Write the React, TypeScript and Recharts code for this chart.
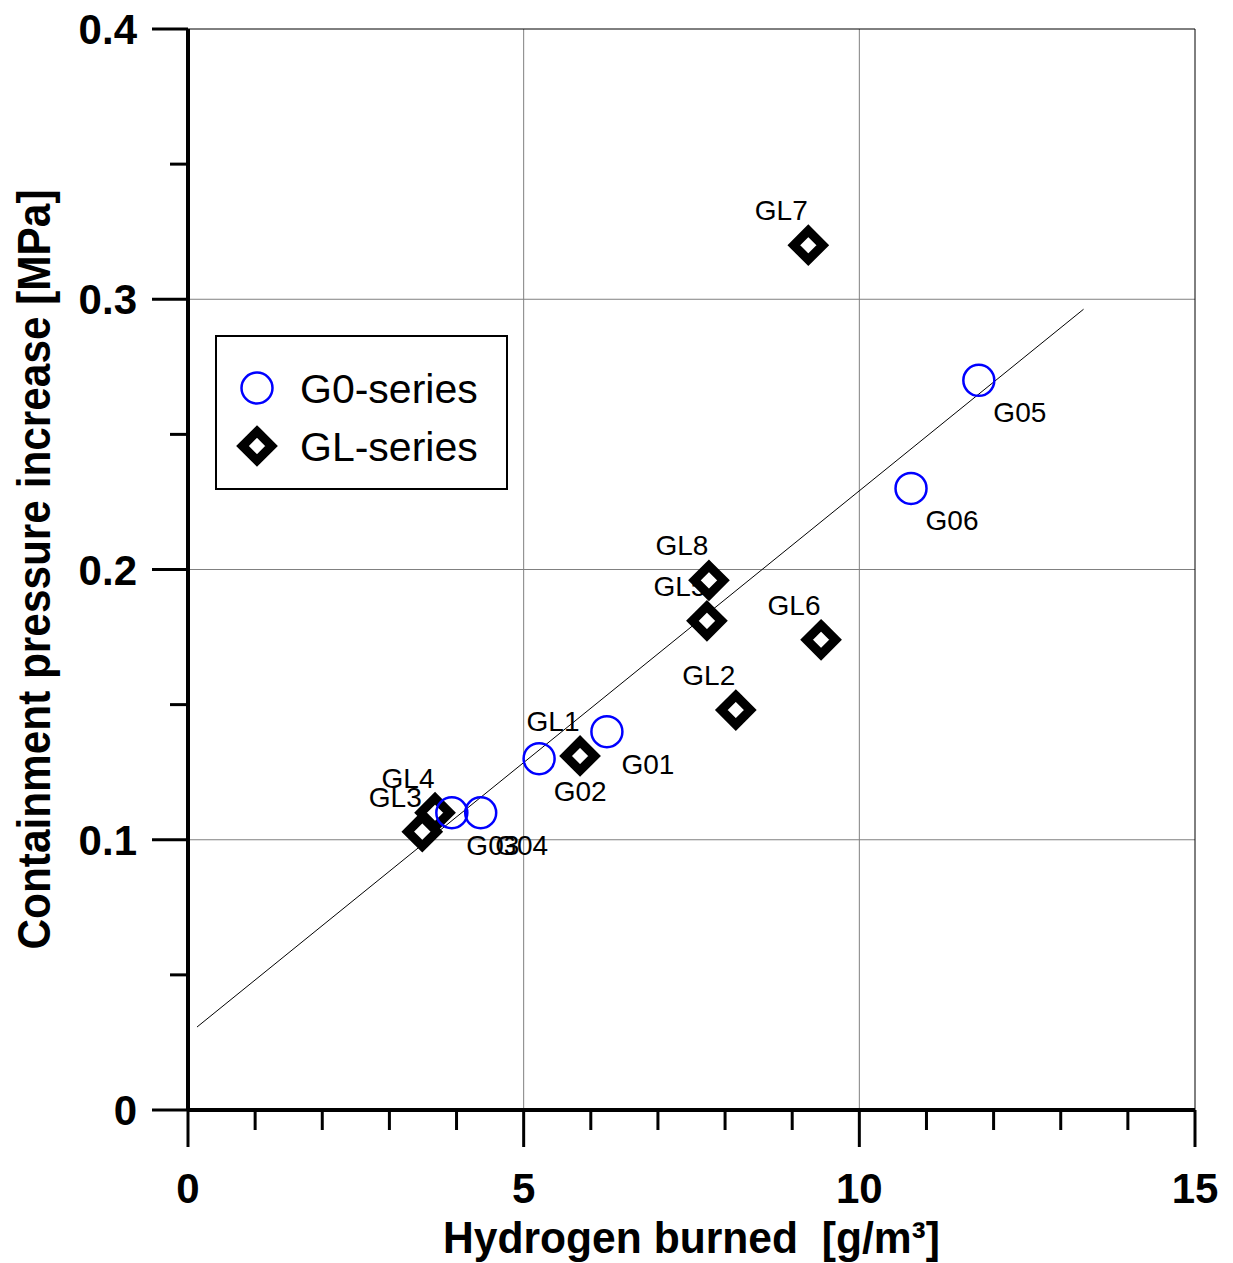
import React from 'react';
import {
  ScatterChart,
  Scatter,
  XAxis,
  YAxis,
  ReferenceLine,
  Legend,
} from 'recharts';

const FONT = '"Liberation Sans", Arial, sans-serif';

// G0-series (blue circles)
const g0Labels = ['G03', 'G04', 'G02', 'G01', 'G06', 'G05'];
const g0X = [3.93, 4.36, 5.23, 6.24, 10.77, 11.78];
const g0Y = [0.11, 0.11, 0.13, 0.14, 0.23, 0.27];

// GL-series (black diamonds)
const glLabels = ['GL3', 'GL4', 'GL1', 'GL2', 'GL6', 'GL5', 'GL8', 'GL7'];
const glX = [3.49, 3.68, 5.84, 8.16, 9.43, 7.73, 7.76, 9.24];
const glY = [0.103, 0.11, 0.131, 0.148, 0.174, 0.181, 0.196, 0.32];

// fitted line end points
const fitX = [0.134, 13.34];
const fitY = [0.0307, 0.2963];

const xTicks = [0, 1, 2, 3, 4, 5, 6, 7, 8, 9, 10, 11, 12, 13, 14, 15];
const yTicks = [0, 0.05, 0.1, 0.15, 0.2, 0.25, 0.3, 0.35, 0.4];
const xGrid = [5, 10];
const yGrid = [0.1, 0.2, 0.3];

const g0Data = g0Labels.map((name, i) => ({ name, x: g0X[i], y: g0Y[i] }));
const glData = glLabels.map((name, i) => ({ name, x: glX[i], y: glY[i] }));
const fitLine = fitX.map((x, i) => ({ x, y: fitY[i] }));

const diamondPoints = (cx: number, cy: number, r: number) =>
  `${cx},${cy - r} ${cx + r},${cy} ${cx},${cy + r} ${cx - r},${cy}`;

const CircleShape = (props: any) => {
  const { cx, cy, payload } = props;
  return (
    <g>
      <circle cx={cx} cy={cy} r={15.5} fill="none" stroke="#0000FF" strokeWidth={2.5} />
      <text
        x={cx + 41}
        y={cy + 42}
        textAnchor="middle"
        fontFamily={FONT}
        fontSize={28}
        fill="#000"
      >
        {payload.name}
      </text>
    </g>
  );
};

const DiamondShape = (props: any) => {
  const { cx, cy, payload } = props;
  return (
    <g>
      <text
        x={cx - 27}
        y={cy - 25}
        textAnchor="middle"
        fontFamily={FONT}
        fontSize={28}
        fill="#000"
      >
        {payload.name}
      </text>
      <polygon
        points={diamondPoints(cx, cy, 14.5)}
        fill="#fff"
        stroke="#000"
        strokeWidth={9}
        strokeLinejoin="miter"
      />
    </g>
  );
};

const XTick = ({ x, y, payload }: any) => {
  const v = payload.value;
  const major = v % 5 === 0;
  return (
    <g>
      <line x1={x} x2={x} y1={y} y2={y + (major ? 37 : 20)} stroke="#000" strokeWidth={3} />
      {major && (
        <text
          x={x}
          y={y + 93}
          textAnchor="middle"
          fontFamily={FONT}
          fontWeight="bold"
          fontSize={42}
          fill="#000"
        >
          {v}
        </text>
      )}
    </g>
  );
};

const YTick = ({ x, y, payload }: any) => {
  const v = payload.value;
  const major = Math.round(v * 100) % 10 === 0;
  return (
    <g>
      <line x1={x - (major ? 36 : 18)} x2={x} y1={y} y2={y} stroke="#000" strokeWidth={3} />
      {major && (
        <text
          x={x - 51}
          y={y + 15}
          textAnchor="end"
          fontFamily={FONT}
          fontWeight="bold"
          fontSize={42}
          fill="#000"
        >
          {v === 0 ? '0' : v.toFixed(1)}
        </text>
      )}
    </g>
  );
};

const XTitle = (props: any) => {
  const { x, y, width } = props.viewBox;
  return (
    <text
      x={x + width / 2}
      y={y + 143}
      textAnchor="middle"
      fontFamily={FONT}
      fontWeight="bold"
      fontSize={44}
      textLength={497}
      lengthAdjust="spacingAndGlyphs"
      fill="#000"
      style={{ whiteSpace: 'pre' }}
    >
      {'Hydrogen burned  [g/m³]'}
    </text>
  );
};

const YTitle = (props: any) => {
  const { x, y, width, height } = props.viewBox;
  const tx = x + width - 138;
  const ty = y + height / 2;
  return (
    <text
      x={tx}
      y={ty}
      transform={`rotate(-90, ${tx}, ${ty})`}
      textAnchor="middle"
      fontFamily={FONT}
      fontWeight="bold"
      fontSize={46}
      textLength={760}
      lengthAdjust="spacingAndGlyphs"
      fill="#000"
    >
      Containment pressure increase [MPa]
    </text>
  );
};

const LegendBox = () => (
  <svg width={293} height={155} style={{ display: 'block' }}>
    <rect x={1} y={1} width={291} height={153} fill="#fff" stroke="#000" strokeWidth={2} />
    <circle cx={42} cy={53} r={15.5} fill="none" stroke="#0000FF" strokeWidth={2.5} />
    <text x={85} y={68} fontFamily={FONT} fontSize={41} fill="#000">
      G0-series
    </text>
    <polygon points={diamondPoints(42, 111, 14.5)} fill="#fff" stroke="#000" strokeWidth={9} />
    <text x={85} y={126} fontFamily={FONT} fontSize={41} fill="#000">
      GL-series
    </text>
  </svg>
);

export default function App() {
  return (
    <div style={{ width: 1217, height: 1255, position: 'relative' }}>
      <ScatterChart
        width={1217}
        height={1255}
        margin={{ top: 21, right: 30, bottom: 53, left: 80 }}
      >
        <XAxis
          type="number"
          dataKey="x"
          domain={[0, 15]}
          ticks={xTicks}
          interval={0}
          tick={<XTick />}
          tickSize={0}
          tickMargin={0}
          tickLine={false}
          axisLine={{ stroke: '#000', strokeWidth: 4 }}
          height={100}
          label={<XTitle />}
        />
        <YAxis
          type="number"
          dataKey="y"
          domain={[0, 0.4]}
          ticks={yTicks}
          interval={0}
          tick={<YTick />}
          tickSize={0}
          tickMargin={0}
          tickLine={false}
          axisLine={{ stroke: '#000', strokeWidth: 4 }}
          width={100}
          label={<YTitle />}
        />
        {xGrid.map((v) => (
          <ReferenceLine key={`x${v}`} x={v} stroke="#808080" strokeWidth={1} />
        ))}
        {yGrid.map((v) => (
          <ReferenceLine key={`y${v}`} y={v} stroke="#808080" strokeWidth={1} />
        ))}
        <ReferenceLine x={15} stroke="#000" strokeWidth={1} />
        <ReferenceLine y={0.4} stroke="#000" strokeWidth={1} />
        <ReferenceLine
          segment={[fitLine[0], fitLine[1]]}
          stroke="#000"
          strokeWidth={1}
        />
        <Legend
          layout="horizontal"
          verticalAlign="middle"
          align="center"
          content={() => <LegendBox />}
          wrapperStyle={{ left: 207, top: 327, width: 293, height: 155 }}
        />
        <Scatter
          name="GL-series"
          data={glData}
          shape={<DiamondShape />}
          isAnimationActive={false}
        />
        <Scatter
          name="G0-series"
          data={g0Data}
          shape={<CircleShape />}
          isAnimationActive={false}
        />
      </ScatterChart>
    </div>
  );
}
